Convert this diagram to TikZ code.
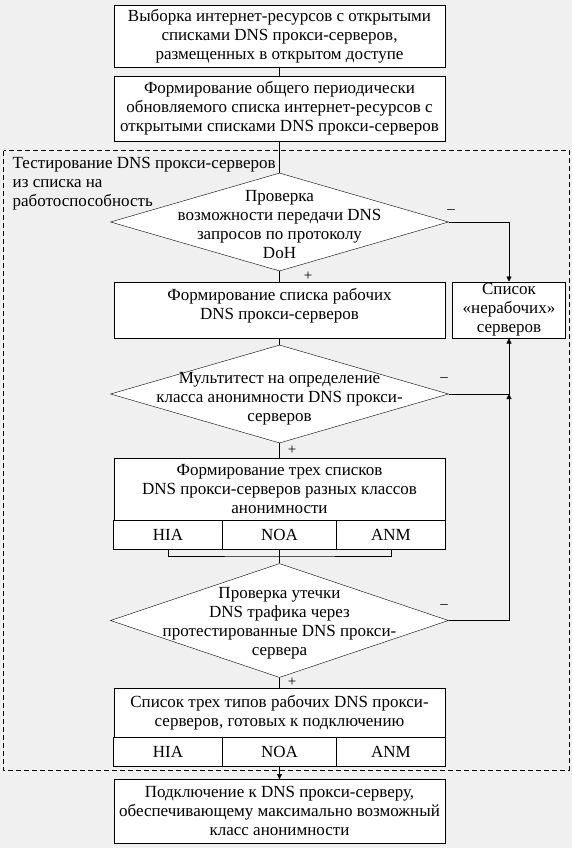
\documentclass[tikz,border=0pt]{standalone}
\usepackage{fontspec}
\setmainfont{Liberation Serif}
\usetikzlibrary{shapes.geometric,arrows.meta}
\definecolor{bgray}{RGB}{240,240,240}
\begin{document}
\begin{tikzpicture}[x=1pt,y=-1pt,
  font=\fontsize{17}{19}\selectfont,
  box/.style={draw,fill=white,align=center,minimum width=331pt,inner sep=0pt},
  cell/.style={draw,fill=white,inner sep=0pt},
  dec/.style={draw,fill=white,diamond,inner sep=0pt,minimum width=338pt},
  sign/.style={font=\fontsize{15}{17}\selectfont,inner sep=0pt},
  tip/.style={-{Triangle[length=5pt,width=5pt]}}]
\fill[bgray] (0,0) rectangle (572,848);
\draw[dash pattern=on 5pt off 3pt] (3.5,150.5) rectangle (569,770);
\node[align=left,anchor=west,inner sep=0pt] (grp) at (12.5,184) {Тестирование DNS прокси-серверов\\из списка на\\работоспособность};
\node[box,minimum height=62pt] (box1) at (279.5,36) {Выборка интернет-ресурсов с открытыми\\списками DNS прокси-серверов,\\размещенных в открытом доступе};
\node[box,minimum height=65pt] (box2) at (279.5,108.5) {Формирование общего периодически\\обновляемого списка интернет-ресурсов с\\открытыми списками DNS прокси-серверов};
\node[dec,minimum height=98pt] (d1) at (279.5,222) {};
\node[align=center] (t1) at (279.5,225) {Проверка\\возможности передачи DNS\\запросов по протоколу\\DoH};
\node[box,minimum height=56.6pt,text depth=12pt] (box3) at (279.5,310) {Формирование списка рабочих\\DNS прокси-серверов};
\node[draw,fill=white,align=center,minimum width=113pt,minimum height=56.6pt,inner sep=0pt] (bad) at (509,310) {Список\\«нерабочих»\\серверов};
\node[dec,minimum height=98pt] (d2) at (279.5,394) {};
\node[align=center] (t2) at (279.5,399) {Мультитест на определение\\класса анонимности DNS прокси-\\серверов};
\node[box,minimum height=61.7pt] (box4) at (279.5,489.2) {Формирование трех списков\\DNS прокси-серверов разных классов\\анонимности};
\node[cell,minimum width=109pt,minimum height=29.3pt] (hia1) at (168,534.7) {HIA};
\node[cell,minimum width=114pt,minimum height=29.3pt] (noa1) at (279.5,534.7) {NOA};
\node[cell,minimum width=109pt,minimum height=29.3pt] (anm1) at (391,534.7) {ANM};
\node[dec,minimum height=114pt] (d3) at (279.5,620.5) {};
\node[align=center] (t3) at (279.5,623) {Проверка утечки\\DNS трафика через\\протестированные DNS прокси-\\сервера};
\node[box,minimum height=49pt] (box5) at (279.5,712.8) {Список трех типов рабочих DNS прокси-\\серверов, готовых к подключению};
\node[cell,minimum width=109pt,minimum height=28.7pt] (hia2) at (168,751.7) {HIA};
\node[cell,minimum width=114pt,minimum height=28.7pt] (noa2) at (279.5,751.7) {NOA};
\node[cell,minimum width=109pt,minimum height=28.7pt] (anm2) at (391,751.7) {ANM};
\node[box,minimum height=64pt] (box6) at (279.5,811.3) {Подключение к DNS прокси-серверу,\\обеспечивающему максимально возможный\\класс анонимности};
\node[sign] (p1) at (308,276) {+};
\node[sign] (p2) at (292,450) {+};
\node[sign] (p3) at (292,682) {+};
\node[sign] (m1) at (451,212) {–};
\node[sign] (m2) at (444,380) {–};
\node[sign] (m3) at (444,607) {–};
\coordinate (join1) at (279.5,556);
\coordinate (join2) at (d2.east -| bad.south);
\draw (box1) -- (box2);
\draw (box2) -- (d1);
\draw (d1) -- (box3);
\draw (box3) -- (d2);
\draw (d2) -- (box4);
\draw (hia1.south) |- (join1) -| (anm1.south);
\draw (noa1.south) -- (d3.north);
\draw (d3) -- (box5);
\draw[tip] (noa2.south) -- (box6.north);
\draw[tip] (d1.east) -| (bad.north);
\draw[tip] (d2.east) -| (bad.south);
\draw[tip] (d3.east) -| (join2);
\end{tikzpicture}
\end{document}
